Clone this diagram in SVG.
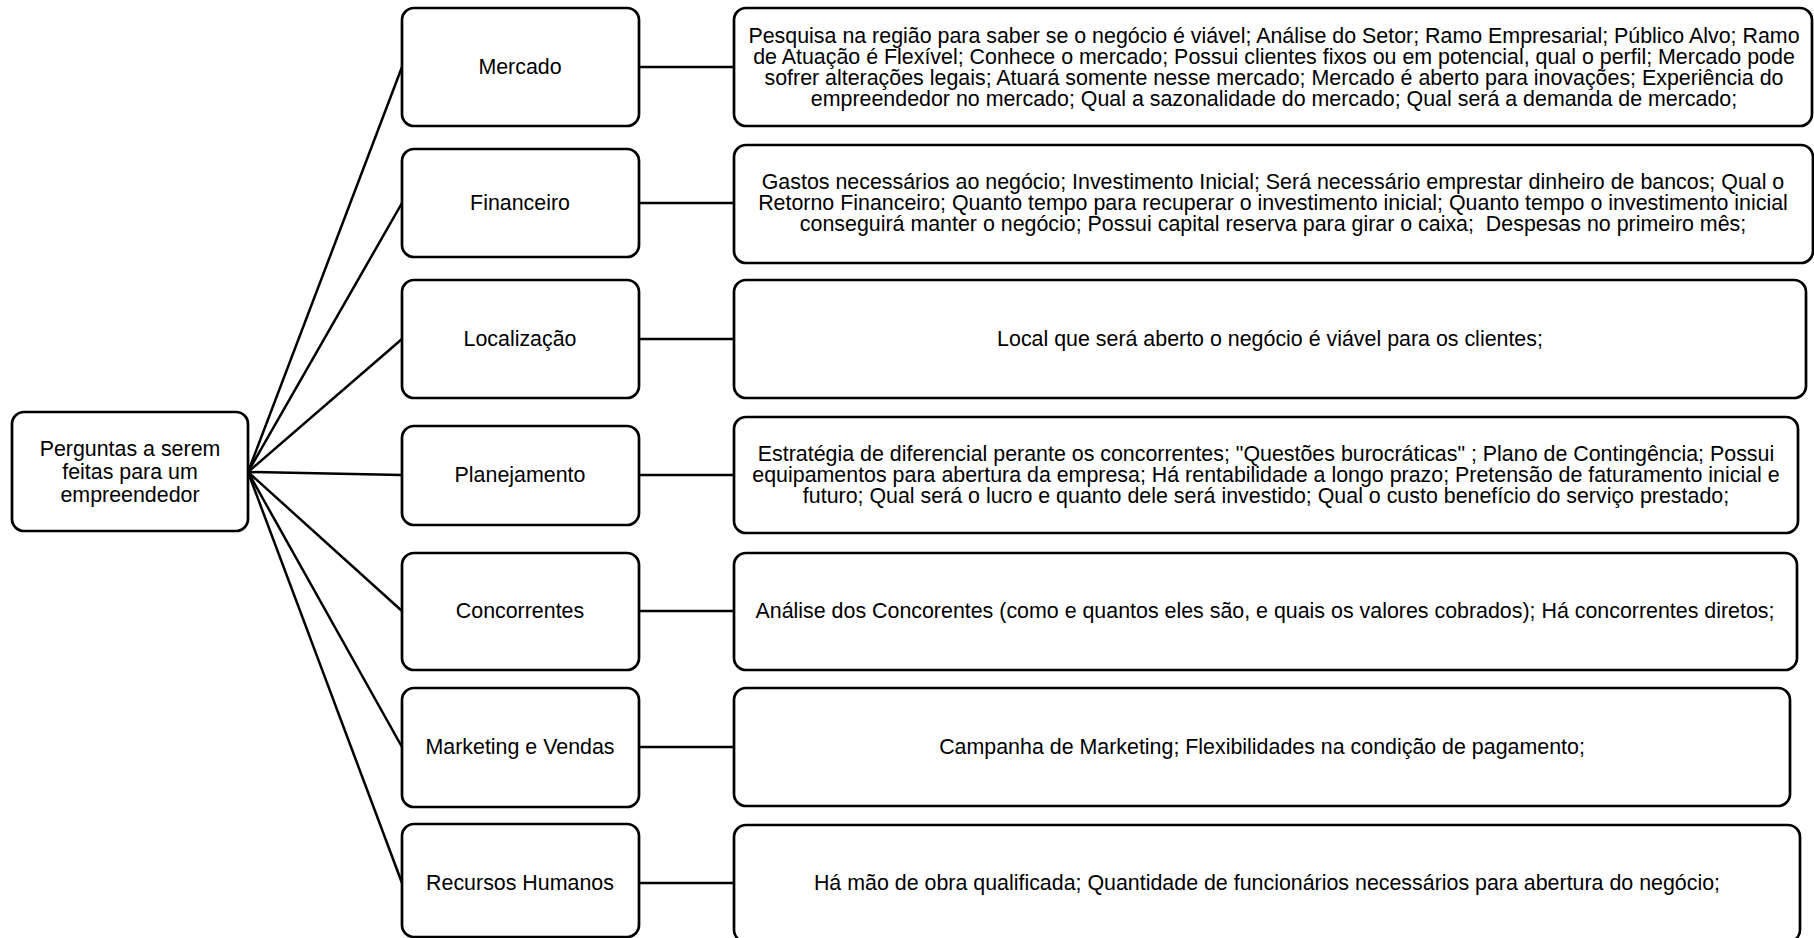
<svg xmlns="http://www.w3.org/2000/svg" width="1814" height="938" viewBox="0 0 1814 938">
  <style>
    .box { fill: #ffffff; stroke: #000000; stroke-width: 2.7; }
    .lbl { font-family: "Liberation Sans", Arial, sans-serif; font-size: 21.4px; fill: #000000; text-anchor: middle; white-space: pre; }
    .wire { stroke: #000000; stroke-width: 2.5; fill: none; }
  </style>
  <rect width="1814" height="938" fill="#ffffff"/>

  <!-- connectors: hub to categories, categories to detail boxes -->
  <g id="connectors">
    <line class="wire" x1="248" y1="472" x2="402" y2="67"/>
    <line class="wire" x1="248" y1="472" x2="402" y2="203"/>
    <line class="wire" x1="248" y1="472" x2="402" y2="339"/>
    <line class="wire" x1="248" y1="472" x2="402" y2="475"/>
    <line class="wire" x1="248" y1="472" x2="402" y2="611"/>
    <line class="wire" x1="248" y1="472" x2="402" y2="747"/>
    <line class="wire" x1="248" y1="472" x2="402" y2="883"/>
    <line class="wire" x1="639" y1="67" x2="734" y2="67"/>
    <line class="wire" x1="639" y1="203" x2="734" y2="203"/>
    <line class="wire" x1="639" y1="339" x2="734" y2="339"/>
    <line class="wire" x1="639" y1="475" x2="734" y2="475"/>
    <line class="wire" x1="639" y1="611" x2="734" y2="611"/>
    <line class="wire" x1="639" y1="747" x2="734" y2="747"/>
    <line class="wire" x1="639" y1="883" x2="734" y2="883"/>
  </g>

  <!-- root -->
  <g id="root">
    <rect class="box" x="12" y="412" width="236" height="119" rx="12"/>
    <text class="lbl" x="130" y="456">Perguntas a serem</text>
    <text class="lbl" x="130" y="479">feitas para um</text>
    <text class="lbl" x="130" y="502">empreendedor</text>
  </g>

  <!-- categories -->
  <g id="mercado">
    <rect class="box" x="402" y="8" width="237" height="118" rx="12"/>
    <text class="lbl" x="520" y="74">Mercado</text>
  </g>
  <g id="financeiro">
    <rect class="box" x="402" y="149" width="237" height="108" rx="12"/>
    <text class="lbl" x="520" y="210">Financeiro</text>
  </g>
  <g id="localizacao">
    <rect class="box" x="402" y="280" width="237" height="118" rx="12"/>
    <text class="lbl" x="520" y="346">Localização</text>
  </g>
  <g id="planejamento">
    <rect class="box" x="402" y="426" width="237" height="99" rx="12"/>
    <text class="lbl" x="520" y="482">Planejamento</text>
  </g>
  <g id="concorrentes">
    <rect class="box" x="402" y="553" width="237" height="117" rx="12"/>
    <text class="lbl" x="520" y="618">Concorrentes</text>
  </g>
  <g id="marketing">
    <rect class="box" x="402" y="688" width="237" height="119" rx="12"/>
    <text class="lbl" x="520" y="754">Marketing e Vendas</text>
  </g>
  <g id="recursos">
    <rect class="box" x="402" y="824" width="237" height="113" rx="12"/>
    <text class="lbl" x="520" y="890">Recursos Humanos</text>
  </g>

  <!-- detail boxes -->
  <g id="mercado-detalhes">
    <rect class="box" x="734" y="8" width="1078" height="118" rx="12"/>
    <text class="lbl" x="1274" y="43">Pesquisa na região para saber se o negócio é viável; Análise do Setor; Ramo Empresarial; Público Alvo; Ramo</text>
    <text class="lbl" x="1274" y="64">de Atuação é Flexível; Conhece o mercado; Possui clientes fixos ou em potencial, qual o perfil; Mercado pode</text>
    <text class="lbl" x="1274" y="85">sofrer alterações legais; Atuará somente nesse mercado; Mercado é aberto para inovações; Experiência do</text>
    <text class="lbl" x="1274" y="106">empreendedor no mercado; Qual a sazonalidade do mercado; Qual será a demanda de mercado;</text>
  </g>
  <g id="financeiro-detalhes">
    <rect class="box" x="734" y="145" width="1079" height="118" rx="12"/>
    <text class="lbl" x="1273" y="189">Gastos necessários ao negócio; Investimento Inicial; Será necessário emprestar dinheiro de bancos; Qual o</text>
    <text class="lbl" x="1273" y="210">Retorno Financeiro; Quanto tempo para recuperar o investimento inicial; Quanto tempo o investimento inicial</text>
    <text class="lbl" x="1273" y="231">conseguirá manter o negócio; Possui capital reserva para girar o caixa;  Despesas no primeiro mês;</text>
  </g>
  <g id="localizacao-detalhes">
    <rect class="box" x="734" y="280" width="1072" height="118" rx="12"/>
    <text class="lbl" x="1270" y="346">Local que será aberto o negócio é viável para os clientes;</text>
  </g>
  <g id="planejamento-detalhes">
    <rect class="box" x="734" y="417" width="1064" height="116" rx="12"/>
    <text class="lbl" x="1266" y="461">Estratégia de diferencial perante os concorrentes; "Questões burocráticas" ; Plano de Contingência; Possui</text>
    <text class="lbl" x="1266" y="482">equipamentos para abertura da empresa; Há rentabilidade a longo prazo; Pretensão de faturamento inicial e</text>
    <text class="lbl" x="1266" y="503">futuro; Qual será o lucro e quanto dele será investido; Qual o custo benefício do serviço prestado;</text>
  </g>
  <g id="concorrentes-detalhes">
    <rect class="box" x="734" y="553" width="1063" height="117" rx="12"/>
    <text class="lbl" x="1265" y="618">Análise dos Concorentes (como e quantos eles são, e quais os valores cobrados); Há concorrentes diretos;</text>
  </g>
  <g id="marketing-detalhes">
    <rect class="box" x="734" y="688" width="1056" height="118" rx="12"/>
    <text class="lbl" x="1262" y="754">Campanha de Marketing; Flexibilidades na condição de pagamento;</text>
  </g>
  <g id="recursos-detalhes">
    <rect class="box" x="734" y="825" width="1066" height="117" rx="12"/>
    <text class="lbl" x="1267" y="890">Há mão de obra qualificada; Quantidade de funcionários necessários para abertura do negócio;</text>
  </g>
</svg>
